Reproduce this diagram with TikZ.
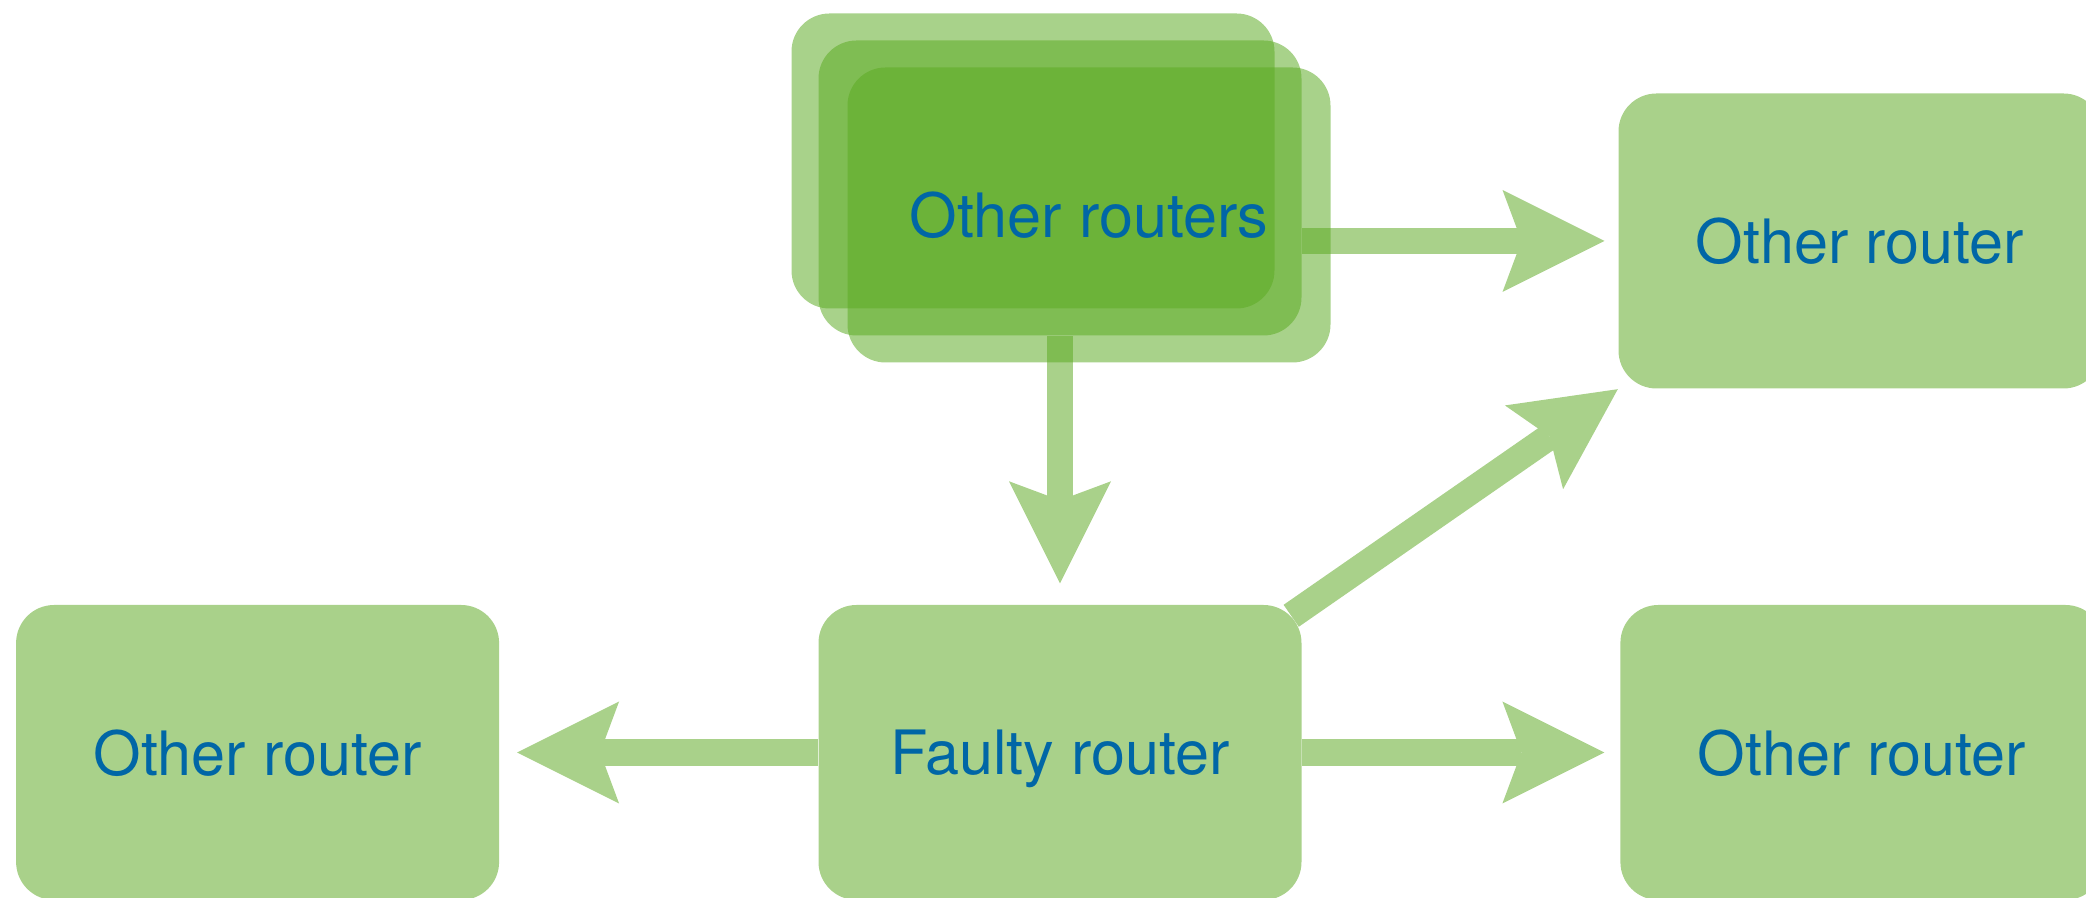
\documentclass[tikz,border=0pt]{standalone}
\usepackage{fontspec}
\setmainfont{TeX Gyre Heros}
\usetikzlibrary{positioning,arrows.meta}
\definecolor{Leaf}{HTML}{5BAA22}
\definecolor{PaleLeaf}{HTML}{A9D18A}
\definecolor{Ink}{HTML}{0066A6}
\pgfdeclarelayer{back}
\pgfsetlayers{back,main}

\begin{document}
\begin{tikzpicture}[
    router/.style={rounded corners=0.38cm,minimum width=4.83cm,minimum height=2.95cm,inner sep=0pt,text depth=0pt,text=Ink,font=\fontsize{17.4}{20}\selectfont},
    solo/.style={router,fill=PaleLeaf},
    stacked/.style={router,fill=Leaf,fill opacity=.53,text opacity=1},
    link/.style={draw=PaleLeaf,line width=0.267cm,-{Stealth[length=1.02cm,width=1.02cm,inset=0.19cm,line width=0pt]}}
  ]
    \useasboundingbox (0,0) rectangle (20.86,8.98);
    % the stack of routers, back to front
    \node[stacked] (stackA) at (10.33,7.37) {};
    \node[stacked] (stackB) at (10.60,7.10) {};
    \node[stacked] (stackC) at (10.89,6.83) {Other routers};
    \node[solo] (peerNE) at (18.60,6.57) {Other router};
    \node[solo] (faulty) at (10.60,1.455) {Faulty router};
    \node[solo,left=3.18cm of faulty] (peerW) {Other router};
    \node[solo,right=3.175cm of faulty] (peerE) {Other router};
    \coordinate (kink) at ([shift={(-0.11,-0.115)}]faulty.north east);

    \begin{pgfonlayer}{back}
      \draw[link,shorten >=0.21cm] (stackB.south) -- (faulty.north);
      \draw[link,shorten >=0.133cm] (stackB.east |- peerNE.west) -- (peerNE.west);
      \draw[link] (kink) -- (peerNE.south west);
      \draw[link,shorten >=0.173cm] (faulty.west) -- (peerW.east);
      \draw[link,shorten >=0.153cm] (faulty.east) -- (peerE.west);
    \end{pgfonlayer}
  \end{tikzpicture}
\end{document}
